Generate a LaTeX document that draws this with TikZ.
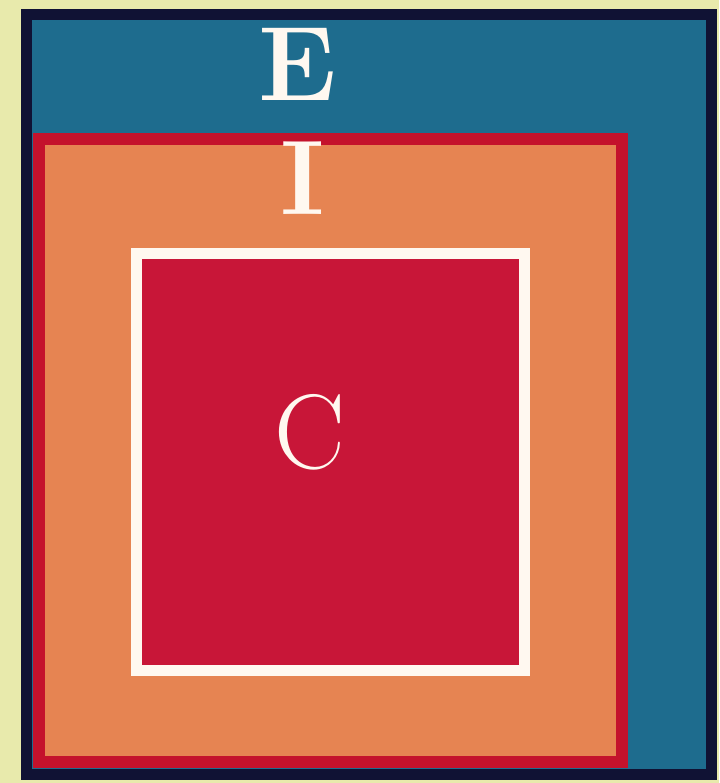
\documentclass[tikz,border=0pt]{standalone}
\usepackage{tikz}
\usepackage{xcolor}
\definecolor{pagebg}{RGB}{232,234,172}
\definecolor{eblue}{RGB}{30,108,142}
\definecolor{enavy}{RGB}{16,18,52}
\definecolor{iorange}{RGB}{230,132,82}
\definecolor{ired}{RGB}{196,18,44}
\definecolor{cred}{RGB}{200,22,56}
\definecolor{cwhite}{RGB}{255,248,240}

\begin{document}
\begin{tikzpicture}[x=1pt, y=-1pt,
  ebox/.style={fill=eblue, draw=enavy, line width=11pt},
  ibox/.style={fill=iorange, draw=ired, line width=12pt},
  cbox/.style={fill=cred, draw=cwhite, line width=11pt},
  lbl/.style={text=cwhite, inner sep=0pt, font=\fontsize{106}{106}\selectfont}
]
\fill[pagebg] (0,0) rectangle (719,783);
\useasboundingbox (0,0) rectangle (719,783);

% nested boxes
\filldraw[ebox] (26.5,14.5) rectangle (711.5,774.5);
\filldraw[ibox] (39,139) rectangle (622,762);
\filldraw[cbox] (136.5,253.5) rectangle (524.5,670.5);

% letters
\node[lbl, font=\fontsize{106}{106}\selectfont\bfseries] (E) at (298,64)  {E};
\node[lbl, font=\fontsize{106}{106}\selectfont\bfseries] (I) at (303,178) {I};
\node[lbl] (C) at (310,432) {C};
\end{tikzpicture}
\end{document}
